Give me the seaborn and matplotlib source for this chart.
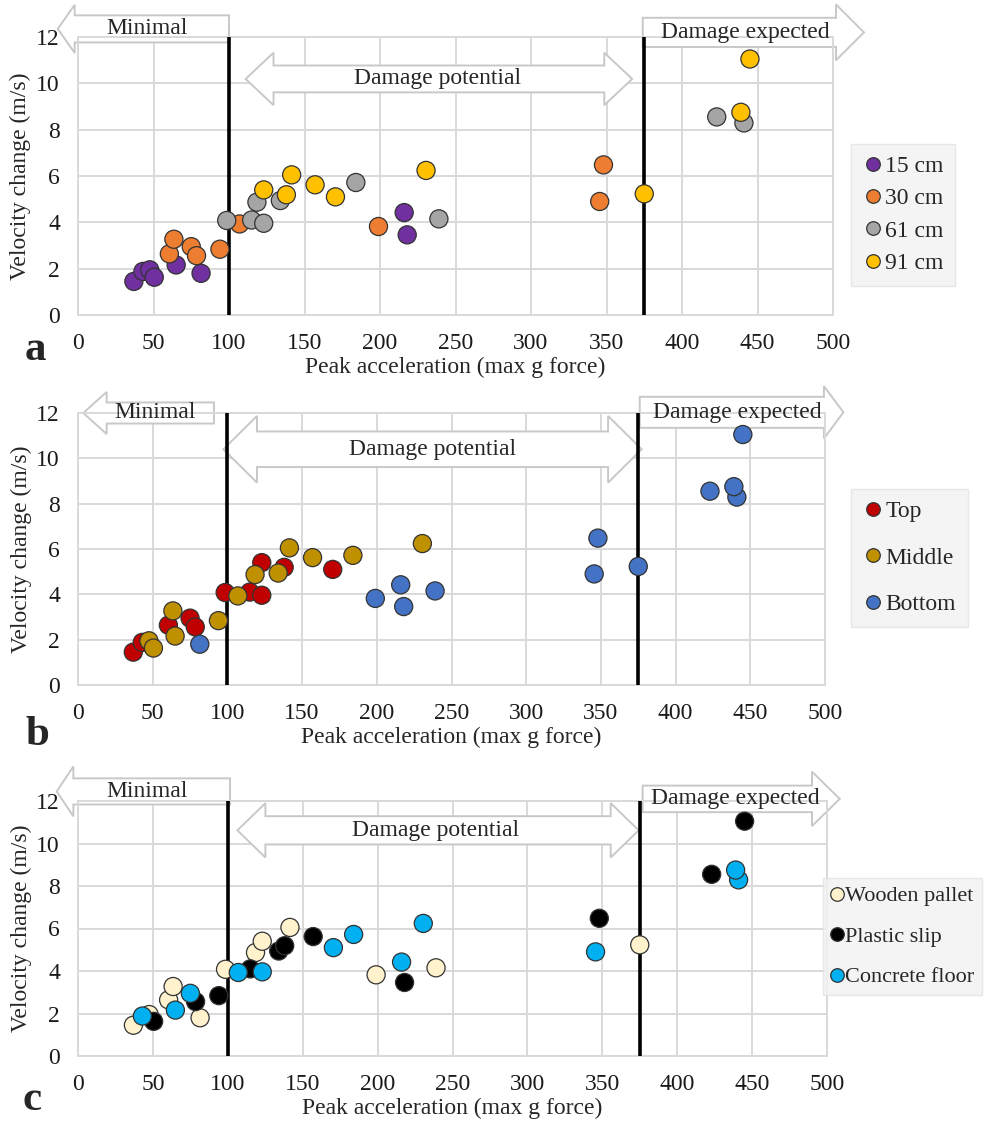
import numpy as np
import pandas as pd
import matplotlib
matplotlib.use("Agg")
import matplotlib.pyplot as plt
from matplotlib.patches import Polygon
import seaborn as sns

sns.set_style("whitegrid")
plt.rcParams['font.family'] = ['Liberation Serif', 'DejaVu Serif']

# Data: each drop test
accel = [37, 43, 47.5, 50.5, 65, 81.5, 216, 218,
         60.5, 63.5, 75, 78.5, 94, 107, 199, 348, 345.5,
         98.5, 115, 118.5, 123, 134, 184, 239, 423, 441,
         123, 138, 141.5, 157, 170.5, 230.5, 375, 439, 445]
velocity = [1.45, 1.88, 1.95, 1.63, 2.16, 1.80, 4.42, 3.46,
            2.64, 3.27, 2.95, 2.56, 2.84, 3.93, 3.82, 6.48, 4.90,
            4.08, 4.10, 4.87, 3.96, 4.94, 5.72, 4.15, 8.55, 8.29,
            5.40, 5.19, 6.05, 5.62, 5.10, 6.24, 5.23, 8.75, 11.05]
height = ["15 cm"] * 8 + ["30 cm"] * 9 + ["61 cm"] * 9 + ["91 cm"] * 9
position = ["Top", "Top", "Middle", "Middle", "Middle", "Bottom", "Bottom", "Bottom",
            "Top", "Middle", "Top", "Top", "Middle", "Middle", "Bottom", "Bottom", "Bottom",
            "Top", "Top", "Middle", "Top", "Middle", "Middle", "Bottom", "Bottom", "Bottom",
            "Top", "Top", "Middle", "Middle", "Top", "Middle", "Bottom", "Bottom", "Bottom"]
surface = ["Wooden pallet", "Concrete floor", "Wooden pallet", "Plastic slip", "Concrete floor",
           "Wooden pallet", "Concrete floor", "Plastic slip",
           "Wooden pallet", "Wooden pallet", "Concrete floor", "Plastic slip", "Plastic slip",
           "Concrete floor", "Wooden pallet", "Plastic slip", "Concrete floor",
           "Wooden pallet", "Plastic slip", "Wooden pallet", "Concrete floor", "Plastic slip",
           "Concrete floor", "Wooden pallet", "Plastic slip", "Concrete floor",
           "Wooden pallet", "Plastic slip", "Wooden pallet", "Plastic slip", "Concrete floor",
           "Concrete floor", "Wooden pallet", "Concrete floor", "Plastic slip"]

height_order = ["15 cm", "30 cm", "61 cm", "91 cm"]
height_colors = ["#7030A0", "#ED7D31", "#A5A5A5", "#FFC000"]
position_order = ["Top", "Middle", "Bottom"]
position_colors = ["#C00000", "#BF9000", "#4472C4"]
surface_order = ["Wooden pallet", "Plastic slip", "Concrete floor"]
surface_colors = ["#FFF2CC", "#000000", "#00B0F0"]

thresholds = [100, 375]
zone_labels = ["Minimal", "Damage potential", "Damage expected"]

df = pd.DataFrame({"accel": accel, "velocity": velocity, "height": height,
                   "position": position, "surface": surface})

W, H = 992, 1123
fig = plt.figure(figsize=(W / 100, H / 100), dpi=100)


def block_arrow(ax, x0, x1, yc, bh, hh, hl, heads):
    # x0 left end, x1 right end, heads: 'left', 'right' or 'both'
    top, bot = yc + bh / 2, yc - bh / 2
    htop, hbot = yc + hh / 2, yc - hh / 2
    pts = []
    if heads in ("left", "both"):
        pts += [(x0 + hl, bot), (x0 + hl, hbot), (x0, yc), (x0 + hl, htop), (x0 + hl, top)]
    else:
        pts += [(x0, bot), (x0, top)]
    if heads in ("right", "both"):
        pts += [(x1 - hl, top), (x1 - hl, htop), (x1, yc), (x1 - hl, hbot), (x1 - hl, bot)]
    else:
        pts += [(x1, top), (x1, bot)]
    ax.add_patch(Polygon(pts, closed=True, facecolor="white", edgecolor="#c8c8c8",
                         lw=1.4, zorder=2, clip_on=False))


panels = [
    dict(col="height", order=height_order, colors=height_colors, letter="a",
         rect=(78, 37, 833, 315), letter_xy=(35, 360),
         legend_xy=(851, 144), spacing=0.45, lfont=17, hlen=0.9, bpad=0.5,
         arrows=[(-13.4, 100, 12.35, 1.17, 2.08, 11.2, "left", 46),
                 (111, 367, 10.19, 1.16, 2.27, 18.5, "both", 238),
                 (374, 520.5, 12.2, 1.26, 2.41, 18.5, "right", 442)]),
    dict(col="position", order=position_order, colors=position_colors, letter="b",
         rect=(78, 413, 825, 685), letter_xy=(37, 745),
         legend_xy=(851, 489), spacing=1.05, lfont=17, hlen=0.9, bpad=0.5,
         arrows=[(3.5, 91, 12.0, 0.93, 1.86, 15.7, "left", 51.5),
                 (97.3, 377.3, 10.4, 1.57, 2.94, 22.5, "both", 237),
                 (376, 512.3, 12.03, 1.37, 2.31, 13, "right", 441)]),
    dict(col="surface", order=surface_order, colors=surface_colors, letter="c",
         rect=(78, 801, 827, 1056), letter_xy=(32, 1110),
         legend_xy=(823, 878), spacing=0.9, lfont=16, hlen=0.6, bpad=0.35,
         arrows=[(-14.2, 101.5, 12.45, 1.23, 2.35, 11.1, "left", 46.4),
                 (106.4, 374.3, 10.62, 1.33, 2.56, 18.7, "both", 238.8),
                 (376.9, 508.5, 12.1, 1.25, 2.56, 18.5, "right", 438.5)]),
]

for p in panels:
    x0, y0, x1, y1 = p["rect"]
    ax = fig.add_axes([x0 / W, 1 - y1 / H, (x1 - x0) / W, (y1 - y0) / H])

    rank = {v: i for i, v in enumerate(p["order"])}
    d = df.assign(k=df[p["col"]].map(rank)).sort_values("k", kind="stable")
    sns.scatterplot(data=d, x="accel", y="velocity", hue=p["col"], hue_order=p["order"],
                    palette=p["colors"], s=170, edgecolor="#333333", linewidth=0.9,
                    ax=ax, zorder=4)

    ax.set_xlim(0, 500)
    ax.set_ylim(0, 12)
    ax.set_xticks(np.arange(0, 501, 50))
    ax.set_yticks(np.arange(0, 13, 2))
    ax.grid(True, color="#d9d9d9", lw=1.4)
    for s in ax.spines.values():
        s.set_color("#d9d9d9")
        s.set_linewidth(1.4)
    ax.tick_params(length=0, pad=13, labelsize=17, labelcolor="#1a1a1a")
    ax.set_xlabel("Peak acceleration (max g force)", fontsize=17, labelpad=2)
    ax.set_ylabel("Velocity change (m/s)", fontsize=17)
    ax.yaxis.set_label_coords(-0.062, 0.5)

    for t in thresholds:
        ax.axvline(t, color="black", lw=2.6, zorder=3)

    for (a0, a1, yc, bh, hh, hl, heads, tx), lab in zip(p["arrows"], zone_labels):
        block_arrow(ax, a0, a1, yc, bh, hh, hl, heads)
        ax.text(tx, yc, lab, ha="center", va="center", fontsize=17, zorder=3, clip_on=False)

    lx, ly = p["legend_xy"]
    sns.move_legend(ax, "upper left", bbox_to_anchor=(lx / W, 1 - ly / H),
                    bbox_transform=fig.transFigure, title=None, frameon=True,
                    fontsize=p["lfont"], markerscale=0.75, handletextpad=0.05,
                    handlelength=p["hlen"], labelspacing=p["spacing"],
                    borderpad=p["bpad"], fancybox=False, borderaxespad=0)
    leg = ax.get_legend()
    leg.get_frame().set_facecolor("#f2f2f2")
    leg.get_frame().set_edgecolor("#e3e3e3")

    lx, ly = p["letter_xy"]
    fig.text(lx / W, 1 - ly / H, p["letter"], fontsize=31, fontweight="bold",
             ha="center", va="baseline")

fig.savefig("out.png", dpi=100, facecolor="white")
